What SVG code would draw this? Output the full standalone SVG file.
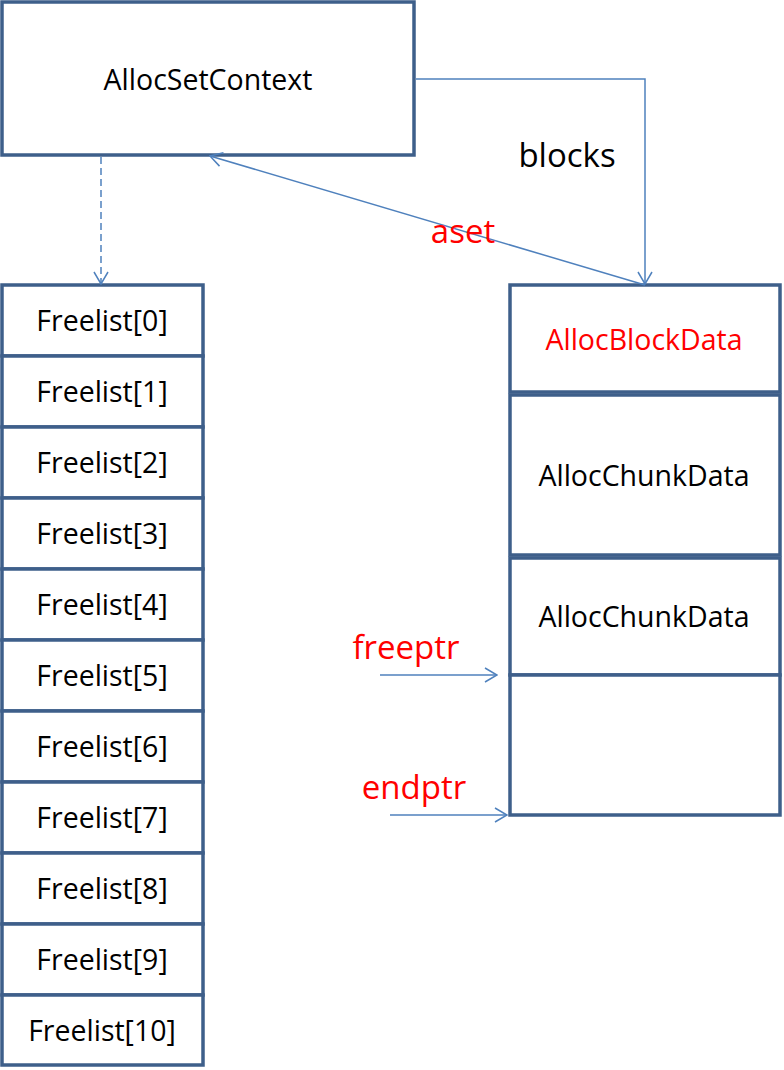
<svg xmlns="http://www.w3.org/2000/svg" width="784" height="1070" viewBox="0 0 784 1070">
<style>
.box{fill:#fff;stroke:#3E5F8A;stroke-width:3.5}
.t{font-family:"Open Sans","Liberation Sans",sans-serif;font-size:28.5px;fill:#000;text-anchor:middle}
.l{font-size:33px}
.r{fill:#FF0000}
.c{fill:none;stroke:#4F81BD;stroke-width:1.5}
</style>
<defs>
<marker id="ah" viewBox="0 0 14 16" refX="13" refY="8" markerWidth="14" markerHeight="16" markerUnits="userSpaceOnUse" orient="auto">
<path d="M1,1 L13,8 L1,15" fill="none" stroke="#4F81BD" stroke-width="1.5"/>
</marker>
</defs>
<rect width="784" height="1070" fill="#fff"/>
<g id="allocsetcontext"><rect class="box" x="2" y="2" width="412" height="153"/><text class="t" x="208" y="90">AllocSetContext</text></g>
<g id="freelist">
<g id="fl0"><rect class="box" x="2" y="285" width="201" height="71"/><text class="t" x="102" y="331">Freelist[0]</text></g>
<g id="fl1"><rect class="box" x="2" y="356" width="201" height="71"/><text class="t" x="102" y="402">Freelist[1]</text></g>
<g id="fl2"><rect class="box" x="2" y="427" width="201" height="71"/><text class="t" x="102" y="473">Freelist[2]</text></g>
<g id="fl3"><rect class="box" x="2" y="498" width="201" height="71"/><text class="t" x="102" y="544">Freelist[3]</text></g>
<g id="fl4"><rect class="box" x="2" y="569" width="201" height="71"/><text class="t" x="102" y="615">Freelist[4]</text></g>
<g id="fl5"><rect class="box" x="2" y="640" width="201" height="71"/><text class="t" x="102" y="686">Freelist[5]</text></g>
<g id="fl6"><rect class="box" x="2" y="711" width="201" height="71"/><text class="t" x="102" y="757">Freelist[6]</text></g>
<g id="fl7"><rect class="box" x="2" y="782" width="201" height="71"/><text class="t" x="102" y="828">Freelist[7]</text></g>
<g id="fl8"><rect class="box" x="2" y="853" width="201" height="71"/><text class="t" x="102" y="899">Freelist[8]</text></g>
<g id="fl9"><rect class="box" x="2" y="924" width="201" height="71"/><text class="t" x="102" y="970">Freelist[9]</text></g>
<g id="fl10"><rect class="box" x="2" y="995" width="201" height="70"/><text class="t" x="102" y="1041">Freelist[10]</text></g>
</g>
<g id="allocblockdata"><rect class="box" x="510" y="285" width="270" height="107"/><text class="t r" x="644" y="350">AllocBlockData</text></g>
<g id="chunk1"><rect class="box" x="510" y="395" width="270" height="160"/><text class="t" x="644" y="486">AllocChunkData</text></g>
<g id="chunk2"><rect class="box" x="510" y="558" width="270" height="117"/><text class="t" x="644" y="627">AllocChunkData</text></g>
<g id="freespace"><rect class="box" x="510" y="675" width="270" height="140"/></g>
<g id="connectors">
<path class="c" d="M101,157 L101,284" stroke-dasharray="7,4" marker-end="url(#ah)"/>
<path class="c" d="M416,79 L645,79 L645,284" marker-end="url(#ah)"/>
<path class="c" d="M645,285 L210,156" marker-end="url(#ah)"/>
<path class="c" d="M380,675 L497,675" marker-end="url(#ah)"/>
<path class="c" d="M390,815 L507,815" marker-end="url(#ah)"/>
</g>
<g id="labels">
<text class="t l" x="567" y="167">blocks</text>
<text class="t l r" x="463" y="243">aset</text>
<text class="t l r" x="406" y="659">freeptr</text>
<text class="t l r" x="414" y="799">endptr</text>
</g>
</svg>
